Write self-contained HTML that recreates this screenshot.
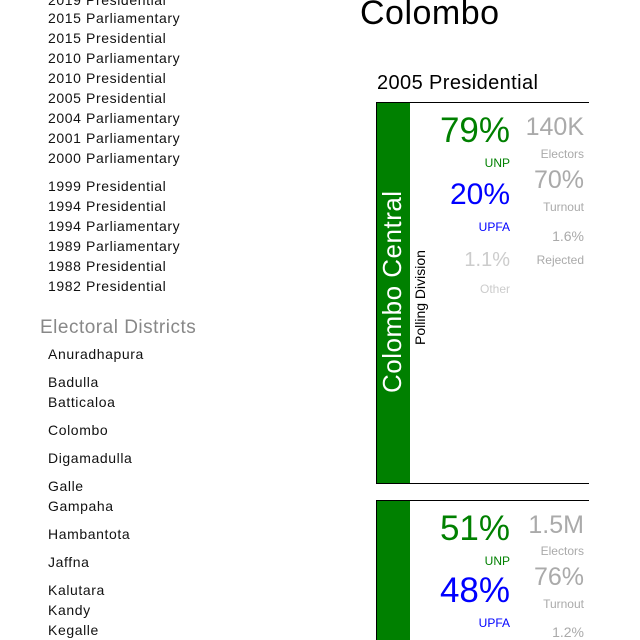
<!DOCTYPE html>
<html><head><meta charset="utf-8"><style>
html,body{margin:0;width:640px;height:640px;overflow:hidden}
body{background:#fff;font-family:"Liberation Sans","DejaVu Sans",sans-serif;position:relative}
.a{position:absolute;white-space:nowrap}
.li{left:48px;font-size:14px;color:#111;letter-spacing:0.6px}
.card{position:absolute;left:376px;width:212px;border-top:1.5px solid #000;border-left:1.5px solid #000;border-bottom:1.5px solid #000;overflow:hidden}
.bar{position:absolute;left:0;top:0;width:33px;height:100%;background:#008000}
.r{text-align:right}
</style></head><body>
<div class="a li" style="top:-8px">2019 Presidential</div>
<div class="a li" style="top:10px">2015 Parliamentary</div>
<div class="a li" style="top:30px">2015 Presidential</div>
<div class="a li" style="top:50px">2010 Parliamentary</div>
<div class="a li" style="top:70px">2010 Presidential</div>
<div class="a li" style="top:90px">2005 Presidential</div>
<div class="a li" style="top:110px">2004 Parliamentary</div>
<div class="a li" style="top:130px">2001 Parliamentary</div>
<div class="a li" style="top:150px">2000 Parliamentary</div>
<div class="a li" style="top:178px">1999 Presidential</div>
<div class="a li" style="top:198px">1994 Presidential</div>
<div class="a li" style="top:218px">1994 Parliamentary</div>
<div class="a li" style="top:238px">1989 Parliamentary</div>
<div class="a li" style="top:258px">1988 Presidential</div>
<div class="a li" style="top:278px">1982 Presidential</div>
<div class="a" style="left:40px;top:317px;font-size:19px;color:#888;letter-spacing:0.5px">Electoral Districts</div>
<div class="a li" style="top:346px">Anuradhapura</div>
<div class="a li" style="top:374px">Badulla</div>
<div class="a li" style="top:394px">Batticaloa</div>
<div class="a li" style="top:422px">Colombo</div>
<div class="a li" style="top:450px">Digamadulla</div>
<div class="a li" style="top:478px">Galle</div>
<div class="a li" style="top:498px">Gampaha</div>
<div class="a li" style="top:526px">Hambantota</div>
<div class="a li" style="top:554px">Jaffna</div>
<div class="a li" style="top:582px">Kalutara</div>
<div class="a li" style="top:602px">Kandy</div>
<div class="a li" style="top:622px">Kegalle</div>

<div class="a" style="left:360px;top:-6px;font-size:34px;color:#000;letter-spacing:0.5px">Colombo</div>
<div class="a" style="left:377px;top:72px;font-size:20px;color:#000;letter-spacing:0.4px">2005 Presidential</div>

<div class="card" style="top:102px;height:380px">
<div class="bar"></div>
<div class="a" style="left:-1px;top:290px;transform:rotate(-90deg);transform-origin:0 0;font-size:26px;color:#fff;line-height:33px;letter-spacing:0.5px">Colombo Central</div>
<div class="a" style="left:33px;top:242px;transform:rotate(-90deg);transform-origin:0 0;font-size:14px;line-height:20px;color:#000">Polling Division</div>
<div class="a r" style="right:79px;top:8px;font-size:35px;color:#008000">79%</div>
<div class="a r" style="right:79px;top:53px;font-size:12px;color:#008000">UNP</div>
<div class="a r" style="right:79px;top:75px;font-size:30px;color:#00f">20%</div>
<div class="a r" style="right:79px;top:117px;font-size:12px;color:#00f">UPFA</div>
<div class="a r" style="right:79px;top:146px;font-size:20px;color:#ccc">1.1%</div>
<div class="a r" style="right:79px;top:179px;font-size:12px;color:#ccc">Other</div>
<div class="a r" style="right:5px;top:10px;font-size:25px;color:#aaa">140K</div>
<div class="a r" style="right:5px;top:44px;font-size:12px;color:#aaa">Electors</div>
<div class="a r" style="right:5px;top:63px;font-size:25px;color:#aaa">70%</div>
<div class="a r" style="right:5px;top:97px;font-size:12px;color:#aaa">Turnout</div>
<div class="a r" style="right:5px;top:125px;font-size:14px;color:#aaa">1.6%</div>
<div class="a r" style="right:5px;top:150px;font-size:12px;color:#aaa">Rejected</div>
</div>

<div class="card" style="top:500px;height:160px">
<div class="bar"></div>
<div class="a r" style="right:79px;top:8px;font-size:35px;color:#008000">51%</div>
<div class="a r" style="right:79px;top:53px;font-size:12px;color:#008000">UNP</div>
<div class="a r" style="right:79px;top:70px;font-size:35px;color:#00f">48%</div>
<div class="a r" style="right:79px;top:115px;font-size:12px;color:#00f">UPFA</div>
<div class="a r" style="right:5px;top:10px;font-size:25px;color:#aaa">1.5M</div>
<div class="a r" style="right:5px;top:43px;font-size:12px;color:#aaa">Electors</div>
<div class="a r" style="right:5px;top:62px;font-size:25px;color:#aaa">76%</div>
<div class="a r" style="right:5px;top:96px;font-size:12px;color:#aaa">Turnout</div>
<div class="a r" style="right:5px;top:123px;font-size:14px;color:#aaa">1.2%</div>
</div>
</body></html>
